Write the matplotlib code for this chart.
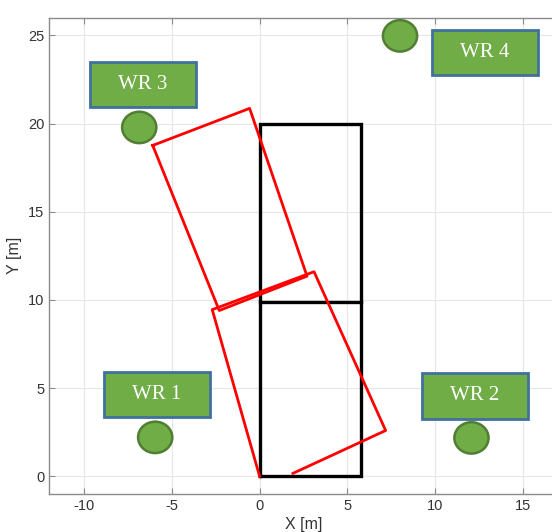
import matplotlib
matplotlib.use("Agg")
import matplotlib.pyplot as plt
from matplotlib.patches import Rectangle, Ellipse

plt.rcParams['font.family'] = ['Liberation Sans', 'DejaVu Sans']
plt.rcParams['axes.unicode_minus'] = False

# Black reference rectangles (two stacked bays)
black_outer_x = [0, 5.8, 5.8, 0, 0]
black_outer_y = [0, 0, 20.0, 20.0, 0]
black_div_x = [0, 5.8]
black_div_y = [9.9, 9.9]

# Red estimated shapes
red_low_x = [1.9, 7.18, 3.1, -2.7, 0.0]
red_low_y = [0.17, 2.6, 11.6, 9.45, 0.0]
red_up_x = [-6.09, -0.57, 2.7, -2.3, -6.09]
red_up_y = [18.76, 20.86, 11.35, 9.4, 18.76]

# Receivers: labels, box centres and circle centres
wr_labels = ["WR 1", "WR 2", "WR 3", "WR 4"]
box_cx = [-5.84, 12.27, -6.66, 12.84]
box_cy = [4.65, 4.56, 22.22, 24.04]
circ_x = [-5.95, 12.07, -6.86, 8.0]
circ_y = [2.21, 2.18, 19.78, 24.97]

xticks = [-10, -5, 0, 5, 10, 15]
yticks = [0, 5, 10, 15, 20, 25]

fig = plt.figure(figsize=(5.52, 5.32), dpi=100)
ax = fig.add_axes([49/552, (532-494)/532, 509/552, (494-17.7)/532])
ax.set_xlim(-12, 17)
ax.set_ylim(-1, 26)

ax.grid(True, color='#e6e6e6', linewidth=0.8)
ax.set_axisbelow(True)
for s in ax.spines.values():
    s.set_color('#8a8a8a')
    s.set_linewidth(1.0)
ax.set_xticks(xticks)
ax.set_yticks(yticks)
ax.tick_params(direction='in', length=4, color='#8a8a8a', labelcolor='#333333',
               labelsize=10.5, top=True, right=True)
ax.set_xlabel('X [m]', fontsize=11.5, color='#333333', labelpad=3)
ax.set_ylabel('Y [m]', fontsize=11.5, color='#333333', labelpad=4)

ax.plot(black_outer_x, black_outer_y, color='black', lw=2.4, solid_joinstyle='miter')
ax.plot(black_div_x, black_div_y, color='black', lw=2.4)
ax.plot(red_low_x, red_low_y, color='#ff0000', lw=2.0)
ax.plot(red_up_x, red_up_y, color='#ff0000', lw=2.0)

bw, bh = 6.05, 2.58
for lab, bx, by in zip(wr_labels, box_cx, box_cy):
    ax.add_patch(Rectangle((bx - bw/2, by - bh/2), bw, bh, facecolor='#70ad47',
                           edgecolor='#41719c', lw=2.0, zorder=5, clip_on=False))
    ax.text(bx, by, lab, ha='center', va='center', color='white', fontsize=15,
            family=['Liberation Serif', 'DejaVu Serif'], zorder=6)
for cx, cy in zip(circ_x, circ_y):
    ax.add_patch(Ellipse((cx, cy), 1.95, 1.78, facecolor='#70ad47',
                         edgecolor='#507e32', lw=1.8, zorder=5, clip_on=False))

fig.savefig('out.png', dpi=100)
